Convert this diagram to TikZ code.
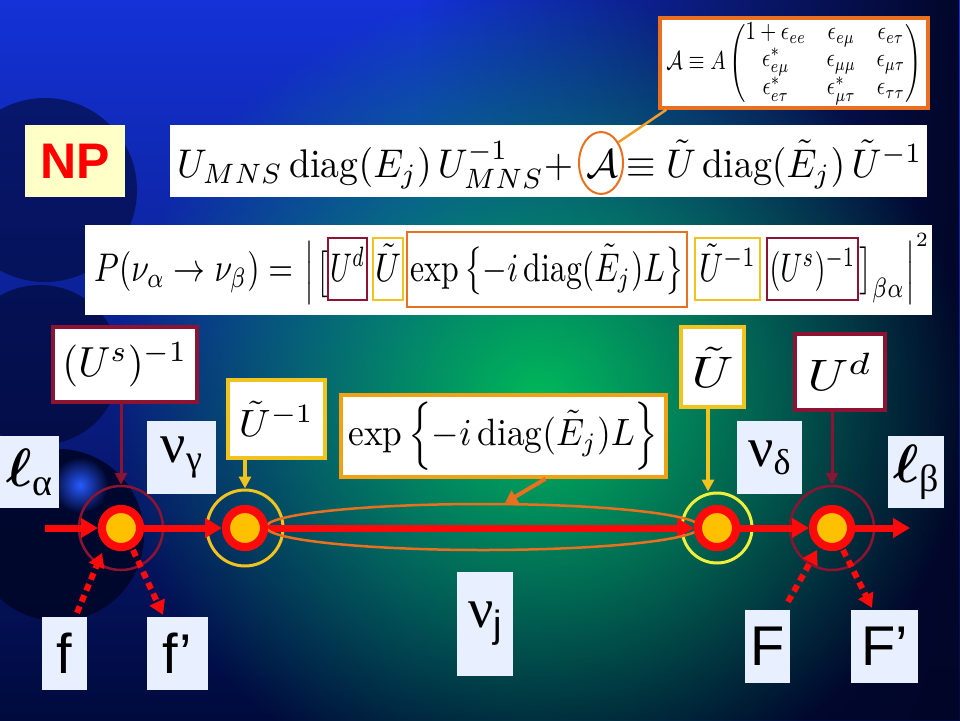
\documentclass[tikz,border=0pt]{standalone}
\usepackage{amsmath}
\usepackage{graphicx}
\usepackage{fontspec}
\newfontfamily\sansf{Liberation Sans}
\newfontfamily\greekf{Liberation Serif}
\usetikzlibrary{arrows.meta,shapes.geometric,fadings,calc}
\newcommand\fsz[2]{\fontsize{#1}{#2}\selectfont}
\newcommand\mscale[3]{\resizebox{#1}{#2\height}{#3}}
\definecolor{cMaroon}{RGB}{140,20,50}
\definecolor{cGold}{RGB}{240,195,30}
\definecolor{cOrange}{RGB}{232,112,30}
\definecolor{cExp}{RGB}{242,160,20}
\definecolor{cBright}{RGB}{240,240,60}
\definecolor{cLabel}{RGB}{232,240,255}
\definecolor{cNP}{RGB}{255,255,200}
\definecolor{cRed}{RGB}{255,10,10}
\definecolor{cYel}{RGB}{255,192,0}
\definecolor{cLink}{RGB}{240,160,40}
\definecolor{cBgTop}{RGB}{20,50,215}
\definecolor{cBgBot}{RGB}{0,10,60}
\definecolor{cNavy}{RGB}{2,6,40}
\definecolor{cGlow}{RGB}{0,185,90}
\definecolor{cSphere}{RGB}{0,6,40}
\definecolor{cHigh}{RGB}{40,90,255}
\tikzfading[name=fadeR, left color=transparent!100, right color=transparent!0]
\tikzfading[name=radf, inner color=transparent!0, outer color=transparent!100]
\begin{document}
\begin{tikzpicture}[x=1pt,y=-1pt,
 lbl/.style={fill=cLabel, inner sep=0pt},
 wbx/.style={fill=white, inner sep=0pt, line width=3.5pt},
 fbx/.style={inner sep=0pt, anchor=base, line width=2pt, text height=43pt, text depth=19pt},
 vtx/.style={circle, fill=cYel, draw=cRed, line width=8pt, minimum size=38pt, inner sep=0pt},
 ringc/.style={circle, line width=2.5pt, inner sep=0pt},
 mainarr/.style={draw=cRed, line width=7pt, -{Triangle[length=17pt,width=19pt]}},
 dotarr/.style={draw=cRed, line width=6pt, dash pattern=on 7pt off 5pt, -{Triangle[length=14pt,width=16pt]}},
 conn/.style={line width=3pt, -{Triangle[length=12pt,width=12pt]}},
 ftwo/.style={inner sep=0pt},
 fone/.style={inner sep=0pt, anchor=base west},
]
\useasboundingbox (0,0) rectangle (960,720);
% background
\shade[top color=cBgTop, bottom color=cBgBot] (0,0) rectangle (960,720);
\fill[cNavy, path fading=fadeR] (420,0) rectangle (960,720);
\fill[cGlow, path fading=radf] (540,400) ellipse (430 and 410);
\fill[cSphere, opacity=0.55] (45,190) circle (92);
\fill[cSphere, opacity=0.6] (40,365) circle (80);
\fill[cSphere, opacity=0.9] (58,535) circle (86);
\fill[cHigh, path fading=radf] (80,485) circle (28);

% top formulas
\node[fill=cNP, minimum width=100pt, minimum height=72pt, inner sep=0pt] (np) at (75,161)
  {\sansf\bfseries\fsz{50}{60}\color{red}NP};
\node[fill=white, minimum width=757pt, minimum height=72pt, inner sep=0pt] (f1box) at (548.5,161) {};
\node[fone] (f1L) at (177,177) {\mscale{396pt}{4}{$U_{MNS}\operatorname{diag}(E_j)\,U_{MNS}^{-1}+$}};
\node[fone, anchor=base] (f1A) at (602,177) {\scalebox{4}{$\mathcal{A}$}};
\node[fone] (f1R) at (626,177) {\mscale{296pt}{4}{$\equiv\tilde U\operatorname{diag}(\tilde E_j)\,\tilde U^{-1}$}};
\node[ellipse, draw=cOrange, line width=2pt, minimum width=44pt, minimum height=62pt, inner sep=0pt] (ellA) at (601,163) {};

\node[wbx, draw=cOrange, minimum width=268pt, minimum height=90pt] (mat) at (794,63)
  {\mscale{255pt}{2.6}{\def\arraystretch{0.85}$\mathcal{A}\equiv A\begin{pmatrix}1+\epsilon_{ee}&\epsilon_{e\mu}&\epsilon_{e\tau}\\ \epsilon^*_{e\mu}&\epsilon_{\mu\mu}&\epsilon_{\mu\tau}\\ \epsilon^*_{e\tau}&\epsilon^*_{\mu\tau}&\epsilon_{\tau\tau}\end{pmatrix}$}};
\draw[cLink, line width=2.5pt] (ellA.50) -- ([xshift=8pt]mat.south west);

% probability formula
\node[fill=white, minimum width=847pt, minimum height=90pt, inner sep=0pt] (f2box) at (508.5,270) {};
\node[ftwo, anchor=base west] (f2p) at (94,281) {\mscale{199pt}{4}{$P(\nu_\alpha\to\nu_\beta)=$}};
\node[ftwo] (f2bar) at (309,272.5) {\scalebox{3}[3.5]{$\Big|$}};
\node[ftwo] (f2brk) at (323,274) {\scalebox{3}[3.9]{$\big[$}};
\node[fbx, draw=cMaroon, minimum width=39pt] (f2Ud) at (347.5,281) {\mscale{35pt}{4}{$U^d$}};
\node[fbx, draw=cGold, minimum width=30pt] (f2Ut) at (388,281) {\mscale{26pt}{4}{$\tilde U$}};
\node[fbx, draw=cOrange, minimum width=280pt, text height=49pt, text depth=26pt] (f2exp) at (547,281)
  {\mscale{273pt}{4}{$\exp\,\bigl\{-i\operatorname{diag}(\tilde E_j)L\bigr\}$}};
\node[fbx, draw=cGold, minimum width=65pt] (f2Uti) at (727.5,281) {\mscale{57pt}{4}{$\tilde U^{-1}$}};
\node[fbx, draw=cMaroon, minimum width=91pt] (f2Us) at (812.5,281) {\mscale{86pt}{4}{$(U^s)^{-1}$}};
\node[ftwo, anchor=base west] (f2rb) at (859,281) {\mscale{46pt}{4}{$\big]_{\beta\alpha}$}};
\node[ftwo] (f2bar2) at (910,272.5) {\scalebox{3}[3.5]{$\Big|$}};
\node[ftwo] (f2sq) at (922,240) {\scalebox{2.9}{$\scriptstyle 2$}};

% diagram boxes
\node[wbx, draw=cMaroon, minimum width=144pt, minimum height=75pt] (Us) at (125,364.5)
  {\mscale{125pt}{4.2}{$(U^s)^{-1}$}};
\node[wbx, draw=cGold, minimum width=97pt, minimum height=78pt] (Uti) at (276.5,419)
  {\mscale{75pt}{3.8}{$\tilde U^{-1}$}};
\node[wbx, draw=cExp, minimum width=325pt, minimum height=82pt] (expbox) at (503.5,436)
  {\mscale{310pt}{3.8}{$\exp\,\Bigl\{-i\operatorname{diag}(\tilde E_j)L\Bigr\}$}};
\node[wbx, draw=cGold, minimum width=63pt, minimum height=80pt] (Ut) at (712.5,367)
  {\mscale{42pt}{4.4}{$\tilde U$}};
\node[wbx, draw=cMaroon, minimum width=90pt, minimum height=76pt] (Ud) at (840,372)
  {\mscale{65pt}{4.4}{$U^d$}};

% labels
\node[lbl, minimum width=59pt, minimum height=72pt] (la) at (29.5,472)
  {\scalebox{5.4}{$\boldsymbol{\ell}$}\raisebox{-9pt}{\greekf\fsz{38}{44}α}};
\node[lbl, minimum width=69pt, minimum height=73pt] (ng) at (181.5,457.5)
  {\greekf\fsz{56}{62}ν\raisebox{-8pt}{\fsz{36}{40}γ}};
\node[lbl, minimum width=65pt, minimum height=73pt] (nd) at (769.5,457.5)
  {\greekf\fsz{56}{62}ν\raisebox{-8pt}{\fsz{36}{40}δ}};
\node[lbl, minimum width=56pt, minimum height=72pt] (lb) at (916,472)
  {\scalebox{5.4}{$\boldsymbol{\ell}$}\raisebox{-9pt}{\greekf\fsz{38}{44}β}};
\node[lbl, minimum width=56pt, minimum height=104pt] (nj) at (485,624)
  {{\greekf\fsz{56}{62}ν}\raisebox{-10pt}{\sansf\fsz{38}{44}j}};
\node[lbl, minimum width=45pt, minimum height=73pt] (f) at (64.5,653.5) {\sansf\fsz{56}{62}f};
\node[lbl, minimum width=61pt, minimum height=73pt] (fp) at (177.5,653.5) {\sansf\fsz{56}{62}f’};
\node[lbl, minimum width=45pt, minimum height=73pt] (F) at (767.5,646.5) {\sansf\fsz{56}{62}F};
\node[lbl, minimum width=67pt, minimum height=73pt] (Fp) at (884.5,646.5) {\sansf\fsz{56}{62}F’};

% rings
\node[ringc, draw=cMaroon, minimum size=84pt] (ring1) at (121,528) {};
\node[ringc, draw=cGold, line width=3pt, minimum size=76pt] (ring2) at (245,528) {};
\node[ringc, draw=cBright, line width=3pt, minimum size=70pt] (ring3) at (717,528) {};
\node[ringc, draw=cMaroon, minimum size=84pt] (ring4) at (832,528) {};

% vertices
\coordinate (start) at (45,528);
\coordinate (end) at (910,528);
\node[vtx] (v1) at (121,528) {};
\node[vtx] (v2) at (245,528) {};
\node[vtx] (v3) at (717,528) {};
\node[vtx] (v4) at (832,528) {};

% main line
\draw[mainarr] (start) -- (v1);
\draw[mainarr] (v1) -- (v2);
\draw[mainarr] (v2) -- (v3);
\draw[mainarr] (v3) -- (v4);
\draw[mainarr] (v4) -- (end);

% propagation ellipse
\node[ellipse, draw=cOrange, line width=2.5pt, minimum width=434pt, minimum height=46pt, inner sep=0pt] (prop) at (483,527) {};
\draw[cOrange, line width=4pt, -{Triangle[length=12pt,width=14pt]}] ([xshift=42pt]expbox.south) -- ([xshift=22pt]prop.north);

% vertices on top
\node[vtx] at (v1) {};
\node[vtx] at (v2) {};
\node[vtx] at (v3) {};
\node[vtx] at (v4) {};

% connectors from boxes
\draw[conn, cMaroon] (Us.south -| ring1.north) -- (ring1.north);
\draw[conn, cGold, line width=4pt] (Uti.south -| ring2.north) -- (ring2.north);
\coordinate (v3t) at ([xshift=-9pt]ring3.north);
\draw[conn, cGold, line width=4pt] (Ut.south -| v3t) -- (v3t);
\draw[conn, cMaroon] (Ud.south -| ring4.north) -- (ring4.north);

% dotted external lines
\draw[dotarr] ([xshift=12.5pt,yshift=4pt]f.north) -- ($(v1)+(-19,25)$);
\draw[dotarr] ($(v1)+(12,22)$) -- ([xshift=-14.5pt,yshift=2pt]fp.north);
\draw[dotarr] ([xshift=20.5pt,yshift=8pt]F.north) -- ($(v4)+(-15,22)$);
\draw[dotarr] ($(v4)+(11,22)$) -- ([xshift=-12.5pt,yshift=2pt]Fp.north);
\end{tikzpicture}
\end{document}
